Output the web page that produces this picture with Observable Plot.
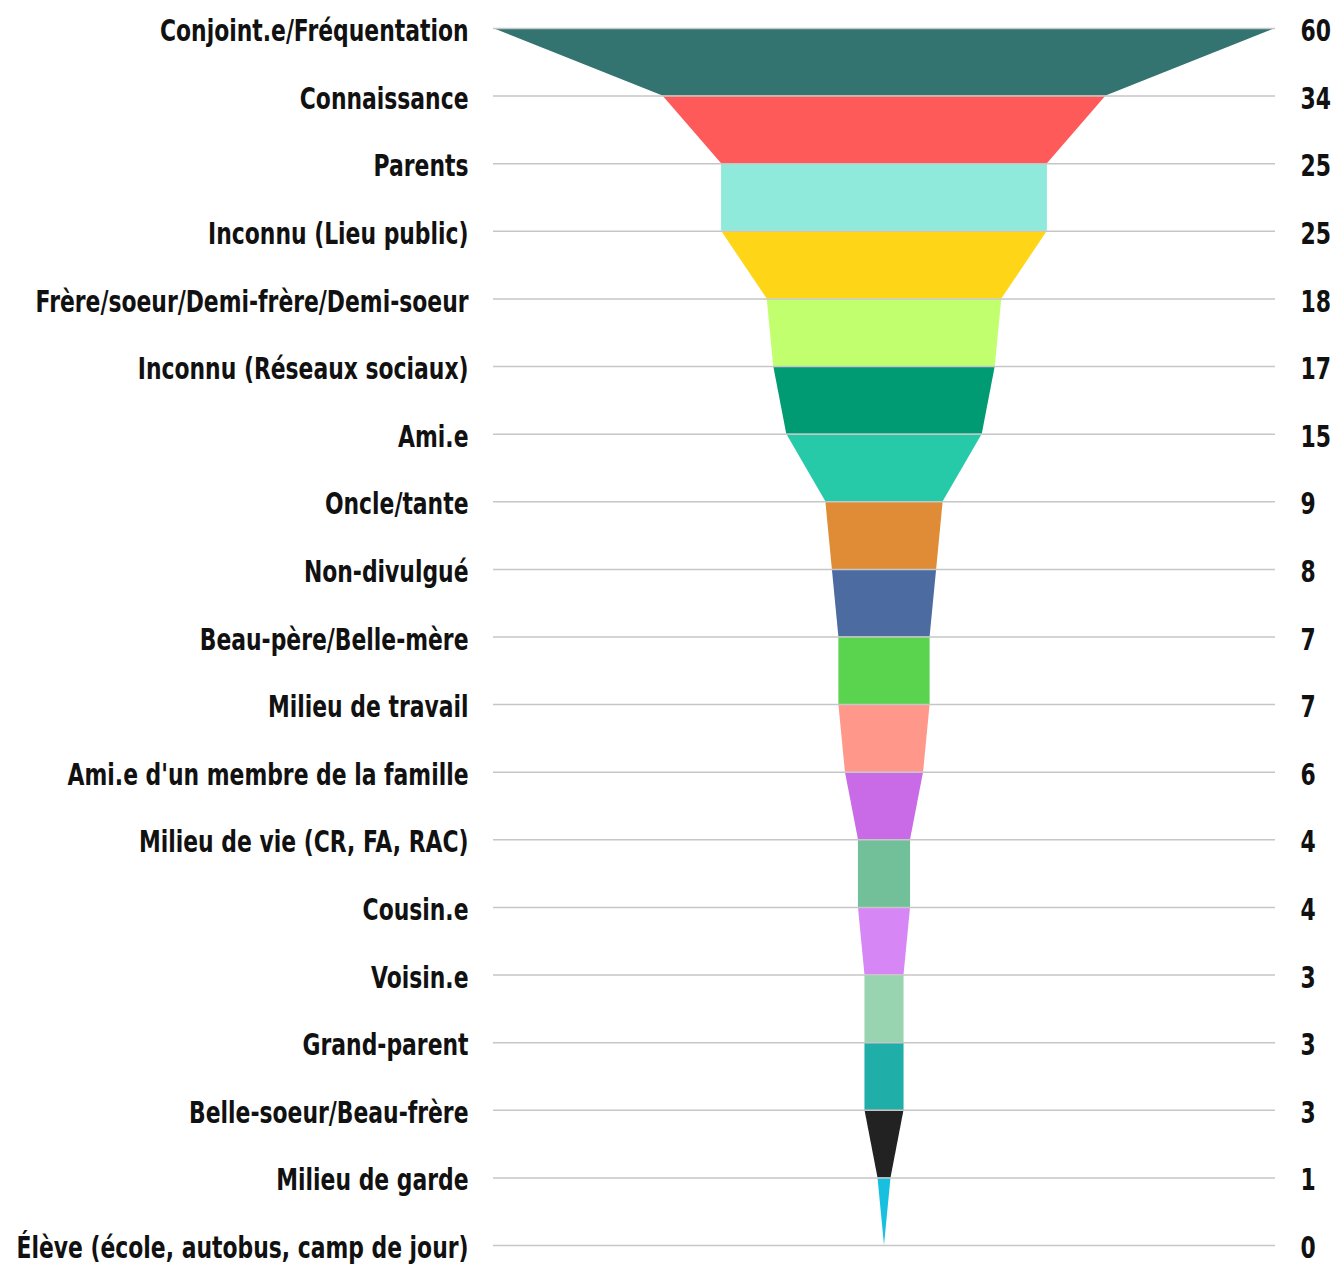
<!DOCTYPE html>
<html>
<head>
<meta charset="utf-8">
<script src="https://cdn.jsdelivr.net/npm/d3@7"></script>
<script src="https://cdn.jsdelivr.net/npm/@observablehq/plot@0.6"></script>
<style>
  html, body { margin: 0; padding: 0; background: #fff; }
</style>
</head>
<body>
<div id="chart"></div>
<script>
const categories = [
  "Conjoint.e/Fréquentation",
  "Connaissance",
  "Parents",
  "Inconnu (Lieu public)",
  "Frère/soeur/Demi-frère/Demi-soeur",
  "Inconnu (Réseaux sociaux)",
  "Ami.e",
  "Oncle/tante",
  "Non-divulgué",
  "Beau-père/Belle-mère",
  "Milieu de travail",
  "Ami.e d'un membre de la famille",
  "Milieu de vie (CR, FA, RAC)",
  "Cousin.e",
  "Voisin.e",
  "Grand-parent",
  "Belle-soeur/Beau-frère",
  "Milieu de garde",
  "Élève (école, autobus, camp de jour)"
];
const values = [60, 34, 25, 25, 18, 17, 15, 9, 8, 7, 7, 6, 4, 4, 3, 3, 3, 1, 0];
const segmentColors = [
  "#337370", "#ff5a5a", "#90eadc", "#ffd517", "#c2ff6e", "#009b73",
  "#26c9a8", "#e08b35", "#4c6ba1", "#5ad44f", "#ff978a", "#c96be6",
  "#72c09a", "#d787f5", "#98d4b0", "#1fafa8", "#222222", "#18c0e0"
];

const idx = categories.map((_, i) => i);
const segIdx = segmentColors.map((_, i) => i);
// each funnel segment spans from category i to category i+1
const segData = segIdx.flatMap(s => [
  {seg: s, y: s, v: values[s]},
  {seg: s, y: s + 1, v: values[s + 1]}
]);

const fontFamily = '"DejaVu Sans", sans-serif';

const chart = Plot.plot({
  width: 1335,
  height: 1264,
  marginLeft: 493,
  marginRight: 60,
  marginTop: 28,
  marginBottom: 19,
  style: {fontFamily, fontSize: "30px", fontWeight: "bold", color: "#111", background: "#fff"},
  x: {domain: [-30, 30], axis: null},
  y: {domain: [0, categories.length - 1], reverse: true, axis: null},
  color: {domain: segIdx, range: segmentColors},
  marks: [
    Plot.areaX(segData, {
      y: "y",
      x1: d => -d.v / 2,
      x2: d => d.v / 2,
      z: "seg",
      fill: "seg",
      curve: "linear"
    }),
    Plot.ruleY(idx, {stroke: "#c6c6c6", strokeWidth: 1.5}),
    Plot.axisY(idx, {
      anchor: "left",
      label: null,
      tickSize: 0,
      tickPadding: 25,
      dy: 3,
      tickFormat: i => categories[i],
      fontSize: 30,
      fontWeight: "bold"
    }),
    Plot.axisY(idx, {
      anchor: "right",
      label: null,
      tickSize: 0,
      tickPadding: 25,
      dy: 3,
      tickFormat: i => String(values[i]),
      fontSize: 30,
      fontWeight: "bold"
    })
  ]
});
document.getElementById("chart").appendChild(chart);

// emulate a condensed typeface: squeeze every label horizontally
const texts = Array.from(chart.querySelectorAll("text"));
const widths = texts.map(t => t.getComputedTextLength());
const longest = Math.max(...widths);
const k = 452 / longest;
texts.forEach((t, i) => {
  t.setAttribute("textLength", (widths[i] * k).toFixed(1));
  t.setAttribute("lengthAdjust", "spacingAndGlyphs");
});
</script>
</body>
</html>
